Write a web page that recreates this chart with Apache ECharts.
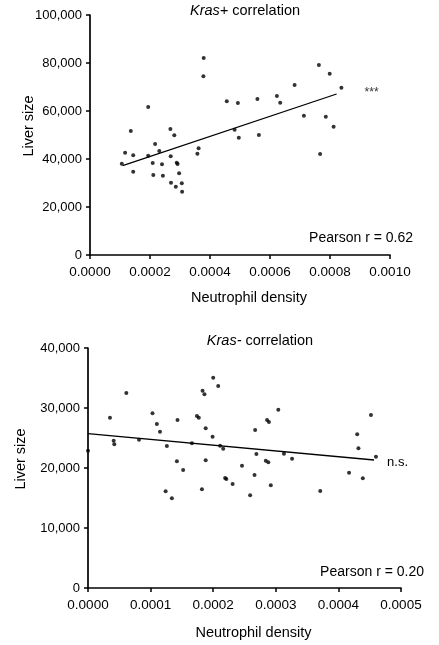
<!DOCTYPE html>
<html>
<head>
<meta charset="utf-8">
<script src="https://cdn.jsdelivr.net/npm/echarts@6/dist/echarts.min.js"></script>
<style>
  html, body { margin: 0; padding: 0; background: #fff; }
  #chart { width: 439px; height: 645px; }
</style>
</head>
<body>
<div id="chart"></div>
<script>
// Kras+ : neutrophil density vs liver size
const kpX = [0.000106, 0.000117, 0.000136, 0.000144, 0.000144, 0.000194, 0.000194, 0.000209, 0.000211, 0.000217,
  0.000231, 0.00024, 0.000243, 0.000268, 0.000269, 0.00027, 0.000281, 0.000286, 0.000289, 0.000292,
  0.000297, 0.000306, 0.000307, 0.000358, 0.000362, 0.000378, 0.000379, 0.000456, 0.000482, 0.000493,
  0.000496, 0.000558, 0.000563, 0.000623, 0.000634, 0.000682, 0.000713, 0.000763, 0.000767, 0.000786,
  0.000799, 0.000812, 0.000838];
const kpY = [38040, 42630, 51670, 41540, 34710, 61670, 41380, 38330, 33330, 46250,
  43330, 37790, 33040, 52500, 41130, 30130, 49880, 28460, 38460, 37920,
  34040, 29880, 26380, 42210, 44460, 74460, 82080, 64040, 52210, 63330,
  48880, 65000, 50000, 66250, 63460, 70830, 58040, 79170, 42080, 57630,
  75540, 53460, 69710];
const kpFitX = [0.000109, 0.000822];
const kpFitY = [37210, 67080];

// Kras- : neutrophil density vs liver size
const knX = [0, 0.0000351, 0.0000612, 0.000041, 0.000042, 0.0000815, 0.000103, 0.00011, 0.000115, 0.000124,
  0.000126, 0.000134, 0.000142, 0.000143, 0.000152, 0.000166, 0.000174, 0.000177, 0.000182, 0.000183,
  0.000186, 0.000188, 0.000188, 0.000199, 0.0002, 0.000208, 0.000211, 0.000216, 0.000219, 0.000221,
  0.000231, 0.000246, 0.000259, 0.000266, 0.000267, 0.000269, 0.000284, 0.000286, 0.000288, 0.000289,
  0.000292, 0.000304, 0.000313, 0.000326, 0.000371, 0.000417, 0.00043, 0.000432, 0.000439, 0.000452,
  0.00046];
const knY = [22890, 28390, 32500, 24560, 23940, 24720, 29110, 27330, 26060, 16110,
  23670, 14940, 21110, 28000, 19670, 24110, 28670, 28390, 16440, 32890,
  32280, 26610, 21280, 25220, 35060, 33670, 23720, 23220, 18330, 18170,
  17330, 20390, 15440, 18830, 26330, 22330, 21220, 28000, 20940, 27670,
  17110, 29720, 22390, 21560, 16170, 19220, 25610, 23280, 18280, 28830,
  21890];
const knFitX = [0, 0.000457];
const knFitY = [25720, 21330];

const FONT = "'Liberation Sans', Arial, sans-serif";
const zip = (xs, ys) => xs.map((x, i) => [x, ys[i]]);

const chart = echarts.init(document.getElementById('chart'));

function xAxisCfg(gridIndex, max, interval, gap) {
  return {
    gridIndex, type: 'value', min: 0, max, interval,
    name: 'Neutrophil density', nameLocation: 'middle', nameGap: gap, nameMoveOverlap: false,
    nameTextStyle: { color: '#000', fontSize: 14.5, fontFamily: FONT, padding: [0, 0, 0, 18] },
    axisLine: { lineStyle: { color: '#000', width: 1.7 } },
    axisTick: { show: true, length: 4, lineStyle: { color: '#000', width: 1.5 } },
    axisLabel: { color: '#000', fontSize: 13.5, fontFamily: FONT, margin: 10,
      formatter: v => v.toFixed(4) },
    splitLine: { show: false }
  };
}
function yAxisCfg(gridIndex, max, interval, gap) {
  return {
    gridIndex, type: 'value', min: 0, max, interval,
    name: 'Liver size', nameLocation: 'middle', nameGap: gap, nameMoveOverlap: false,
    nameTextStyle: { color: '#000', fontSize: 14.5, fontFamily: FONT, padding: [0, 0, 0, 18] },
    axisLine: { show: true, lineStyle: { color: '#000', width: 1.7 } },
    axisTick: { show: true, length: 4, lineStyle: { color: '#000', width: 1.5 } },
    axisLabel: { color: '#000', fontSize: 13, fontFamily: FONT, margin: 8,
      formatter: v => v.toLocaleString('en-US') },
    splitLine: { show: false }
  };
}

const plain = { color: '#000', fontSize: 14, fontWeight: 'normal', fontFamily: FONT };
const titled = {
  color: '#000', fontSize: 14.5, fontWeight: 'normal', fontFamily: FONT,
  rich: { i: { fontStyle: 'italic', fontSize: 14.5, fontFamily: FONT, color: '#000' } }
};

chart.setOption({
  animation: false,
  backgroundColor: '#fff',
  title: [
    { text: '{i|Kras+} correlation', left: 245, top: 3, padding: 0, textAlign: 'center', textStyle: titled },
    { text: '{i|Kras-} correlation', left: 260, top: 333, padding: 0, textAlign: 'center', textStyle: titled },
    { text: 'Pearson r = 0.62', left: 413, top: 231, padding: 0, textAlign: 'right', textStyle: plain },
    { text: 'Pearson r = 0.20', left: 424, top: 565, padding: 0, textAlign: 'right', textStyle: plain }
  ],
  grid: [
    { left: 90, width: 300, top: 15, height: 240 },
    { left: 88, width: 313, top: 348, height: 240 }
  ],
  xAxis: [xAxisCfg(0, 0.001, 0.0002, 35), xAxisCfg(1, 0.0005, 0.0001, 37)],
  yAxis: [yAxisCfg(0, 100000, 20000, 54), yAxisCfg(1, 40000, 10000, 60)],
  series: [
    {
      type: 'scatter', xAxisIndex: 0, yAxisIndex: 0, data: zip(kpX, kpY),
      symbolSize: 4, itemStyle: { color: '#000' }
    },
    {
      type: 'line', xAxisIndex: 0, yAxisIndex: 0, data: zip(kpFitX, kpFitY),
      showSymbol: false, lineStyle: { color: '#000', width: 1.3 },
      endLabel: { show: true, formatter: '***', color: '#333', fontSize: 12, fontFamily: FONT,
        distance: 28, offset: [0, -1] }
    },
    {
      type: 'scatter', xAxisIndex: 1, yAxisIndex: 1, data: zip(knX, knY),
      symbolSize: 4, itemStyle: { color: '#000' }
    },
    {
      type: 'line', xAxisIndex: 1, yAxisIndex: 1, data: zip(knFitX, knFitY),
      showSymbol: false, lineStyle: { color: '#000', width: 1.3 },
      endLabel: { show: true, formatter: 'n.s.', color: '#000', fontSize: 13, fontFamily: FONT,
        distance: 13, offset: [0, 2] }
    }
  ]
});
</script>
</body>
</html>
